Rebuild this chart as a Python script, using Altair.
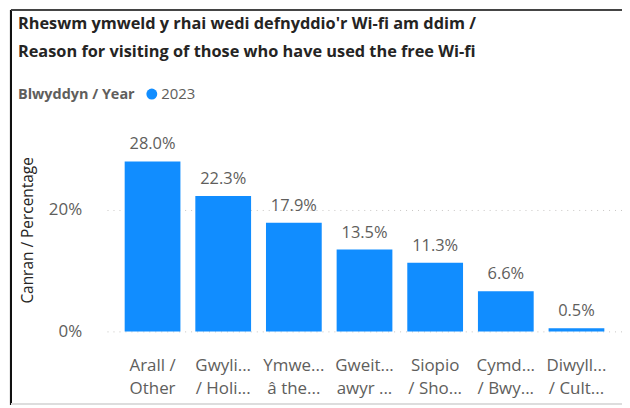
import altair as alt
import pandas as pd

categories = [
    "Arall /|Other",
    "Gwyli...|/ Holi...",
    "Ymwe...|â the...",
    "Gweit...|awyr ...",
    "Siopio|/ Sho...",
    "Cymd...|/ Bwy...",
    "Diwyll...|/ Cult...",
]
values = [28.0, 22.3, 17.9, 13.5, 11.3, 6.6, 0.5]
years = ["2023"] * len(values)

df = pd.DataFrame({"cat": categories, "val": values, "year": years})
df["lbl"] = df["val"].map(lambda v: f"{v:.1f}%")

FONT = "Segoe UI, Open Sans, Noto Sans"
BLUE = "#118DFF"
GREY = "#605E5C"

base = alt.Chart(df)

bars = base.mark_bar(color=BLUE).encode(
    x=alt.X(
        "cat:N",
        sort=None,
        scale=alt.Scale(paddingInner=0.211, paddingOuter=0.25, range=[10.5, 528]),
        axis=alt.Axis(
            title=None,
            labelExpr="split(datum.label, '|')",
            labelAngle=0,
            labelFontSize=17,
            labelColor=GREY,
            labelFont=FONT,
            labelLineHeight=23,
            labelPadding=26,
            labelBaseline="top",
            ticks=False,
            domain=False,
            labelLimit=200,
        ),
    ),
    y=alt.Y(
        "val:Q",
        scale=alt.Scale(domain=[0, 30], nice=False),
        axis=alt.Axis(
            title="Canran / Percentage",
            values=[0, 20],
            labelExpr="datum.value + '%'",
            labelFontSize=17,
            labelColor=GREY,
            labelFont=FONT,
            labelPadding=15,
            ticks=False,
            domain=False,
            grid=True,
            gridColor="#C8C6C4",
            gridDash=[1, 5],
            gridWidth=1,
            titleFont=FONT,
            titleFontSize=15.5,
            titleFontWeight="normal",
            titleColor="#252423",
            titleAngle=-90,
            titleX=-69,
            titleY=81,
            titleAlign="center",
            titleBaseline="middle",
        ),
    ),
    color=alt.Color(
        "year:N",
        scale=alt.Scale(range=[BLUE]),
        legend=alt.Legend(
            title="Blwyddyn / Year",
            orient="none",
            legendX=-79,
            legendY=-63,
            direction="horizontal",
            titleOrient="left",
            titleFont=FONT,
            titleFontSize=14.5,
            titleFontWeight="bold",
            titleColor=GREY,
            titlePadding=9,
            labelFont=FONT,
            labelFontSize=15,
            labelColor=GREY,
            symbolType="circle",
            symbolSize=120,
            symbolStrokeWidth=0,
            labelOffset=2,
        ),
    ),
)

texts = base.mark_text(
    baseline="bottom", dy=-9, fontSize=16.5, color=GREY, font=FONT
).encode(
    x=alt.X("cat:N", sort=None),
    y="val:Q",
    text="lbl:N",
)

frame_left = base.mark_rule(color="#111111", strokeWidth=2).encode(
    x=alt.value(-86), y=alt.value(-140), y2=alt.value(257)
)
frame_top = base.mark_rule(color="#444444", strokeWidth=1).encode(
    x=alt.value(-86), x2=alt.value(530), y=alt.value(-140)
)
frame_bottom = base.mark_rule(color="#DDDDDD", strokeWidth=1).encode(
    x=alt.value(-86), x2=alt.value(530), y=alt.value(256)
)

chart = (
    alt.layer(bars, texts, frame_left, frame_top, frame_bottom)
    .properties(
        width=528,
        height=183,
        autosize=alt.AutoSizeParams(type="none"),
        padding={"left": 89, "top": 141, "right": 0, "bottom": 74},
        title=alt.TitleParams(
            text=[
                "Rheswm ymweld y rhai wedi defnyddio'r Wi-fi am ddim /",
                "Reason for visiting of those who have used the free Wi-fi",
            ],
            anchor="start",
            frame="group",
            font=FONT,
            fontSize=16.4,
            fontWeight="bold",
            color="#252423",
            lineHeight=28,
            dx=-79,
            dy=52,
            offset=0,
        ),
    )
    .configure_view(stroke=None)
)

chart.save("out.html", embed_options={"renderer": "svg", "actions": False})
